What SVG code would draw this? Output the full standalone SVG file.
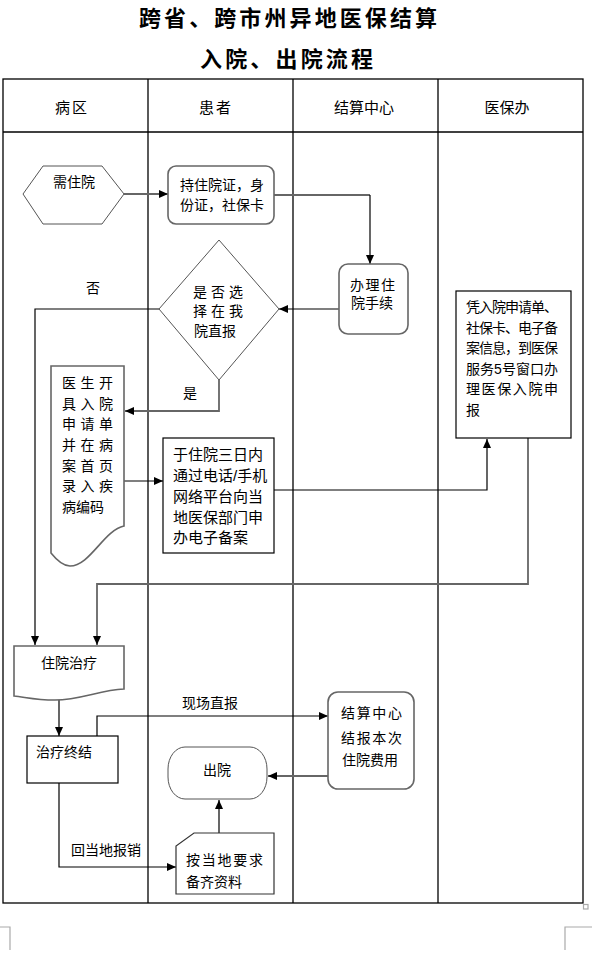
<svg xmlns="http://www.w3.org/2000/svg" width="592" height="957" viewBox="0 0 592 957">
<defs>
<style>
text{font-family:"Liberation Sans","Noto Sans CJK SC",sans-serif;font-size:14px;fill:#000}
.title{font-size:22px;font-weight:bold}
.hdr{font-size:15px;text-anchor:middle}
.mid{text-anchor:middle}
.grid{stroke:#000;stroke-width:1.3;fill:none}
.box{fill:#fff;stroke:#000;stroke-width:1.2}
.rbox{fill:#fff;stroke:#666;stroke-width:1.6}
.thin{fill:#fff;stroke:#555;stroke-width:1}
.c{fill:none;stroke:#000;stroke-width:1.2}
.cg{fill:none;stroke:#666;stroke-width:1.8}
.mark{fill:none;stroke:#aaa;stroke-width:1.2}
</style>
<marker id="arr" markerWidth="9" markerHeight="8" refX="9" refY="4" orient="auto" markerUnits="userSpaceOnUse">
<path d="M0,0 L9,4 L0,8 Z" fill="#000"/>
</marker>
</defs>
<rect width="592" height="957" fill="#fff"/>
<g id="title">
<text class="title" x="139" y="26" textLength="298" lengthAdjust="spacing">跨省、跨市州异地医保结算</text>
<text class="title" x="200" y="67" textLength="173" lengthAdjust="spacing">入院、出院流程</text>
</g>
<g id="table">
<rect class="grid" x="3" y="79" width="580" height="824"/>
<line class="grid" x1="3" y1="132" x2="583" y2="132"/>
<line class="grid" x1="148" y1="79" x2="148" y2="903"/>
<line class="grid" x1="293" y1="79" x2="293" y2="903"/>
<line class="grid" x1="438" y1="79" x2="438" y2="903"/>
<text class="hdr" x="72" y="113" style="letter-spacing:2px">病区</text>
<text class="hdr" x="216" y="113" style="letter-spacing:2px">患者</text>
<text class="hdr" x="364" y="113">结算中心</text>
<text class="hdr" x="507" y="113">医保办</text>
</g>
<g id="connectors">
<path class="cg" d="M124,194 H168" marker-end="url(#arr)"/>
<path class="cg" d="M274,195 H370"/>
<path class="c" d="M370,195 V264" marker-end="url(#arr)"/>
<path class="c" d="M339,309 H279" marker-end="url(#arr)"/>
<path class="c" d="M159,309 H35 V645" marker-end="url(#arr)"/>
<path class="cg" d="M219,380 V411 H125" marker-end="url(#arr)"/>
<path class="c" d="M124,481 H163" marker-end="url(#arr)"/>
<path class="c" d="M274,490 H487 V439" marker-end="url(#arr)"/>
<path class="cg" d="M528,438 V584 H97 V645" marker-end="url(#arr)"/>
<path class="c" d="M59,700 V736" marker-end="url(#arr)"/>
<path class="c" d="M97,736 V716 H328" marker-end="url(#arr)"/>
<path class="cg" d="M328,776 H268" marker-end="url(#arr)"/>
<path class="c" d="M59,781 V867 H176" marker-end="url(#arr)"/>
<path class="c" d="M219,833 V800" marker-end="url(#arr)"/>
<text x="93" y="293" class="mid">否</text>
<text x="190" y="398" class="mid">是</text>
<text x="210" y="708" class="mid">现场直报</text>
<text x="106" y="855" class="mid">回当地报销</text>
</g>
<g id="n-need">
<polygon class="thin" points="23,194 43,166 102,166 124,194 102,224 43,224"/>
<text x="74" y="187" class="mid">需住院</text>
</g>
<g id="n-cards">
<rect class="rbox" x="168" y="166" width="106" height="58" rx="8"/>
<text x="180" y="190">持住院证，身</text>
<text x="180" y="210">份证，社保卡</text>
</g>
<g id="n-admit">
<rect class="rbox" x="339" y="264" width="69" height="70" rx="9"/>
<text x="350" y="290" textLength="45" lengthAdjust="spacing">办理住</text>
<text x="351" y="308">院手续</text>
</g>
<g id="n-choice">
<polygon class="thin" points="219,240 279,309 219,380 159,309"/>
<text x="193" y="297" textLength="50" lengthAdjust="spacing">是否选</text>
<text x="193" y="316" textLength="50" lengthAdjust="spacing">择在我</text>
<text x="194" y="336">院直报</text>
</g>
<g id="n-doctor">
<path class="rbox" d="M51,366 H124 V526 C104,530 90,566 70,566 C62,566 55,558 51,553 Z"/>
<text x="62" y="388" textLength="51" lengthAdjust="spacing">医生开</text>
<text x="62" y="409" textLength="51" lengthAdjust="spacing">具入院</text>
<text x="62" y="429" textLength="51" lengthAdjust="spacing">申请单</text>
<text x="62" y="450" textLength="51" lengthAdjust="spacing">并在病</text>
<text x="62" y="471" textLength="51" lengthAdjust="spacing">案首页</text>
<text x="62" y="491" textLength="51" lengthAdjust="spacing">录入疾</text>
<text x="62" y="512">病编码</text>
</g>
<g id="n-record">
<rect class="box" x="163" y="438" width="111" height="115"/>
<text x="173" y="460" style="font-size:15px">于住院三日内</text>
<text x="173" y="481" style="font-size:15px">通过电话/手机</text>
<text x="173" y="502" style="font-size:15px">网络平台向当</text>
<text x="173" y="523" style="font-size:15px">地医保部门申</text>
<text x="173" y="543" style="font-size:15px">办电子备案</text>
</g>
<g id="n-office">
<rect class="box" x="456" y="291" width="115" height="147"/>
<text x="466" y="312" textLength="92" lengthAdjust="spacing">凭入院申请单、</text>
<text x="466" y="333" textLength="92" lengthAdjust="spacing">社保卡、电子备</text>
<text x="466" y="353" textLength="92" lengthAdjust="spacing">案信息，到医保</text>
<text x="466" y="374" textLength="92" lengthAdjust="spacing">服务5号窗口办</text>
<text x="466" y="394" textLength="92" lengthAdjust="spacing">理医保入院申</text>
<text x="466" y="415">报</text>
</g>
<g id="n-treat">
<path class="rbox" d="M14,646 H124 V689 C100,690 80,700 55,700 C35,700 25,697 14,696 Z"/>
<text x="69" y="668" class="mid">住院治疗</text>
</g>
<g id="n-end">
<rect class="box" x="27" y="736" width="91" height="47"/>
<text x="36" y="757">治疗终结</text>
</g>
<g id="n-settle">
<rect class="rbox" x="328" y="692" width="86" height="97" rx="10"/>
<text x="341" y="718" textLength="61" lengthAdjust="spacing">结算中心</text>
<text x="341" y="743" textLength="61" lengthAdjust="spacing">结报本次</text>
<text x="342" y="765">住院费用</text>
</g>
<g id="n-discharge">
<rect class="thin" x="168" y="747" width="99" height="52" rx="17" ry="22"/>
<text x="217" y="775" class="mid">出院</text>
</g>
<g id="n-docs">
<path class="thin" d="M194,833 H274 V894 H176 V846 Z" style="stroke:#333;stroke-width:1.2"/>
<text x="186" y="865" textLength="77" lengthAdjust="spacing">按当地要求</text>
<text x="186" y="887">备齐资料</text>
</g>
<g id="page-marks">
<rect class="mark" x="583.5" y="904.5" width="4.5" height="4.5"/>
<path class="mark" d="M565,950 V927 H592"/>
<path class="mark" d="M10,950 V927 H0"/>
</g>
</svg>
